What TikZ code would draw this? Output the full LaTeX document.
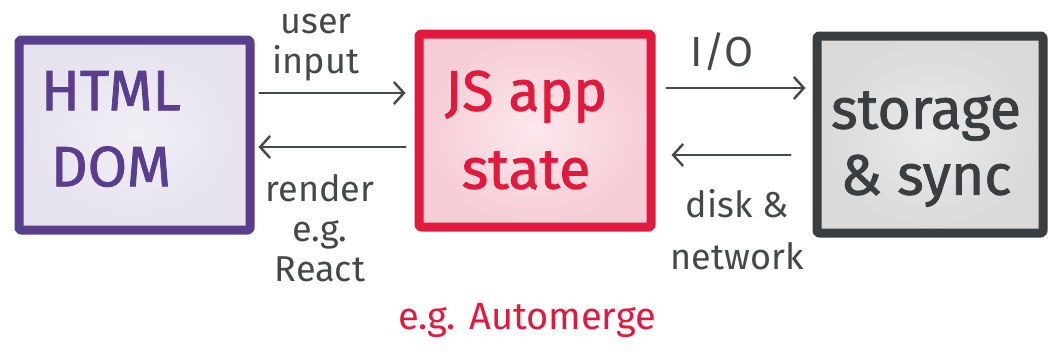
\documentclass[tikz,border=0pt]{standalone}
\usepackage{fontspec}
\setmainfont{Fira Sans}
\newfontfamily\boxfont[FakeBold=1.4]{Fira Sans}
\usetikzlibrary{arrows.meta,calc}
\definecolor{domink}{HTML}{5A3E8E}
\definecolor{domfill}{HTML}{E6E2EE}
\definecolor{jsink}{HTML}{E1193D}
\definecolor{jsfill}{HTML}{F6CCD5}
\definecolor{stink}{HTML}{3A3E40}
\definecolor{stfill}{HTML}{D9D9D9}
\definecolor{pen}{HTML}{454848}
\tikzset{
  box/.style={draw=#1, line width=9pt, rounded corners=2pt, line cap=round, line join=round},
  bigtext/.style={font=\boxfont\fontsize{57}{70}\selectfont, align=center, inner sep=0pt},
  note/.style={font=\fontsize{36}{40}\selectfont, text=pen, align=center, inner sep=0pt},
  arr/.style={draw=pen, line width=2.4pt, line cap=round,
    -{Straight Barb[length=10pt,width=22pt,line width=2.4pt]}}
}
\begin{document}
\begin{tikzpicture}[x=1pt,y=-1pt]
\useasboundingbox (0,0) rectangle (1058,354);
\fill[white] (0,0) rectangle (1058,354);

% the three components
\node[box=domink, inner color=domfill!55, outer color=domfill,
      minimum width=231pt, minimum height=190pt] (html) at (134.5,135) {};
\node[box=jsink, inner color=jsfill!45, outer color=jsfill,
      minimum width=232pt, minimum height=193pt] (js) at (535,130.5) {};
\node[box=stink, inner color=stfill!55, outer color=stfill,
      minimum width=226pt, minimum height=197pt] (store) at (930,134.5) {};

\node[bigtext, text=domink] (htmltxt) at (111,129) {HTML\\[6pt]DOM};
\node[bigtext, text=jsink] (jstxt) at (526,130) {JS app\\[8pt]state};
\node[bigtext, text=stink] (sttxt) at (926,149) {storage\\[-4pt]\& sync};

% data flow between the components
\draw[arr] ([xshift=5pt,yshift=42pt]html.east) -- ([xshift=-9pt,yshift=37.5pt]js.west);
\draw[arr] ([xshift=-9pt,yshift=-16.5pt]js.west) -- ([xshift=4pt,yshift=-12pt]html.east);
\draw[arr] ([xshift=11pt,yshift=42.5pt]js.east) -- ([xshift=-7pt,yshift=46.5pt]store.west);
\draw[arr] ([xshift=-22pt,yshift=-20.5pt]store.west) -- ([xshift=16pt,yshift=-24.5pt]js.east);

% arrow labels
\node[note] (inlbl) at (316,48) {user\\input};
\node[note] (renderlbl) at (320,228) {render\\e.g.\\React};
\node[note, font=\fontsize{42}{46}\selectfont] (iolbl) at (722,52) {I/O};
\node[note] (disklbl) at (737,230) {disk \&\\[12pt]network};
\node[note, text=jsink, font=\fontsize{38}{42}\selectfont] (amlbl) at (527,320) {e.g. Automerge};
\end{tikzpicture}
\end{document}
